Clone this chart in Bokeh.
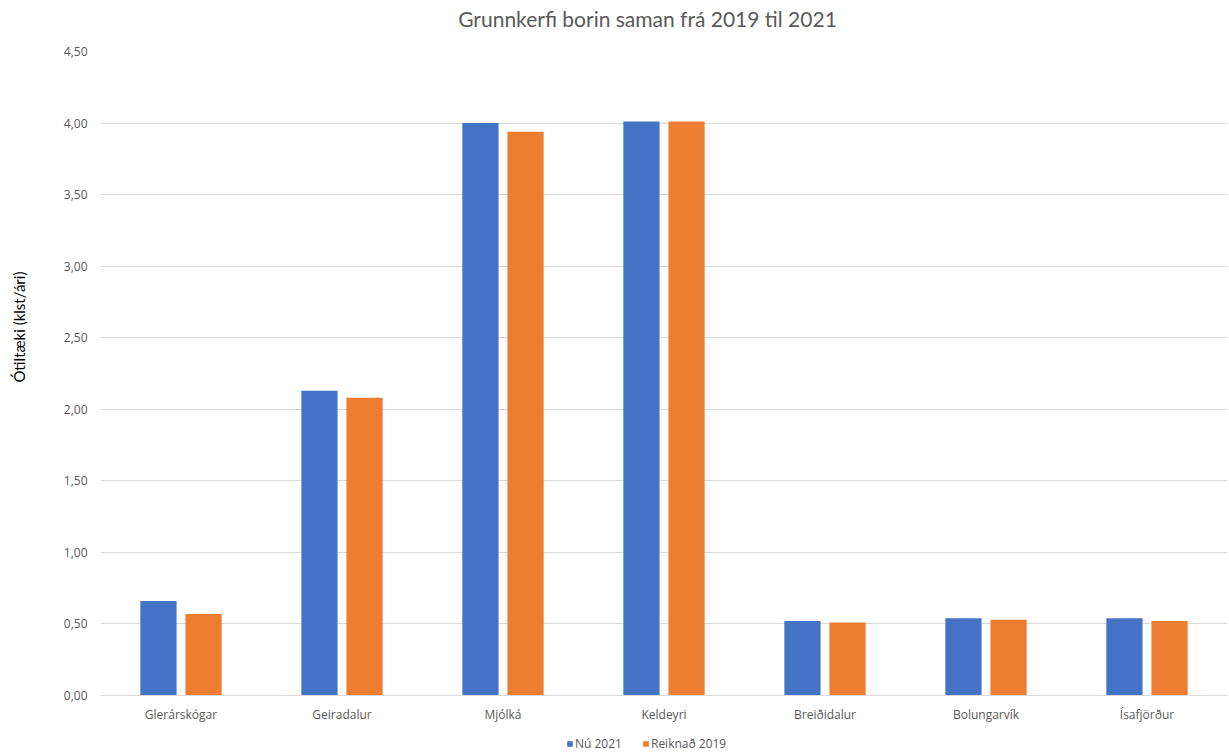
import math
from bokeh.plotting import figure
from bokeh.layouts import column, row
from bokeh.models import ColumnDataSource, Legend, LegendItem, CustomJSTickFormatter, FixedTicker, Label
from bokeh.transform import dodge
from bokeh.embed import file_html
from bokeh.resources import INLINE

categories = ["Glerárskógar", "Geiradalur", "Mjólká", "Keldeyri", "Breiðidalur", "Bolungarvík", "Ísafjörður"]
nu_2021 = [0.66, 2.13, 4.00, 4.01, 0.52, 0.54, 0.54]
reiknad_2019 = [0.57, 2.08, 3.94, 4.01, 0.51, 0.53, 0.52]
y_ticks = [0, 0.5, 1.0, 1.5, 2.0, 2.5, 3.0, 3.5, 4.0, 4.5]
series_names = ["Nú 2021", "Reiknað 2019"]
series_colors = ["#4472C4", "#ED7D31"]

W, H = 1229, 753
TOP_H, BOT_H, LEFT_W = 36, 23, 40
MAIN_H = H - TOP_H - BOT_H


def blank(width, height):
    f = figure(width=width, height=height, x_range=(0, width), y_range=(0, height),
               output_backend="svg", toolbar_location=None,
               x_axis_location=None, y_axis_location=None,
               min_border=0, min_border_left=0, min_border_right=0,
               min_border_top=0, min_border_bottom=0)
    f.outline_line_color = None
    f.xgrid.visible = False
    f.ygrid.visible = False
    return f


# ---- title strip
p_top = blank(W, TOP_H)
p_top.add_layout(Label(x=647, y=TOP_H / 2, text="Grunnkerfi borin saman frá 2019 til 2021",
                       text_align="center", text_baseline="middle",
                       text_font="Lato", text_font_size="21px", text_color="#595959"))

# ---- y-axis title strip
p_left = blank(LEFT_W, MAIN_H)
p_left.add_layout(Label(x=18, y=MAIN_H - (333 - TOP_H), text="Ótiltæki (klst/ári)",
                        angle=math.pi / 2, text_align="center", text_baseline="middle",
                        text_font="Lato", text_font_size="15px", text_color="#000000"))

# ---- main chart
src = ColumnDataSource(dict(cat=categories, a=nu_2021, b=reiknad_2019))
p = figure(x_range=categories, y_range=(0, 4.5), width=W - LEFT_W, height=MAIN_H,
           output_backend="svg", toolbar_location=None,
           min_border_left=100 - LEFT_W, min_border_right=2,
           min_border_top=51 - TOP_H, min_border_bottom=MAIN_H - (695 - TOP_H))
p.outline_line_color = None

p.vbar(x=dodge("cat", -0.14, range=p.x_range), top="a", width=0.225, source=src,
       fill_color=series_colors[0], line_color=None)
p.vbar(x=dodge("cat", 0.14, range=p.x_range), top="b", width=0.225, source=src,
       fill_color=series_colors[1], line_color=None)

p.xgrid.grid_line_color = None
p.ygrid.grid_line_color = "#d9d9d9"
p.ygrid.grid_line_width = 1

p.yaxis.ticker = FixedTicker(ticks=y_ticks)
p.yaxis.formatter = CustomJSTickFormatter(code="return tick.toFixed(2).replace('.', ',');")
p.yaxis.axis_line_color = None
p.yaxis.major_tick_line_color = None
p.yaxis.minor_tick_line_color = None
p.yaxis.major_label_text_font = "Open Sans"
p.yaxis.major_label_text_font_size = "12px"
p.yaxis.major_label_text_color = "#595959"
p.yaxis.major_label_standoff = 7

p.xaxis.axis_line_color = "#d9d9d9"
p.xaxis.major_tick_line_color = None
p.xaxis.minor_tick_line_color = None
p.xaxis.major_label_text_font = "Open Sans"
p.xaxis.major_label_text_font_size = "12px"
p.xaxis.major_label_text_color = "#595959"
p.xaxis.major_label_standoff = 4

# ---- legend strip
p_bot = blank(W, BOT_H)
d1 = p_bot.vbar(x=[-100], top=[-100], width=1, fill_color=series_colors[0], line_color=None)
d2 = p_bot.vbar(x=[-100], top=[-100], width=1, fill_color=series_colors[1], line_color=None)
legend = Legend(items=[LegendItem(label=series_names[0], renderers=[d1]),
                       LegendItem(label=series_names[1], renderers=[d2])],
                orientation="horizontal", location=(566, 1))
legend.label_text_font = "Open Sans"
legend.label_text_font_size = "12px"
legend.label_text_color = "#595959"
legend.glyph_width = 7
legend.glyph_height = 7
legend.label_standoff = 2
legend.label_height = 12
legend.spacing = 20
legend.padding = 0
legend.margin = 0
legend.border_line_color = None
legend.background_fill_alpha = 0
p_bot.add_layout(legend)

layout = column(p_top, row(p_left, p, spacing=0), p_bot, spacing=0)
open("out.html", "w").write(file_html(layout, INLINE))
